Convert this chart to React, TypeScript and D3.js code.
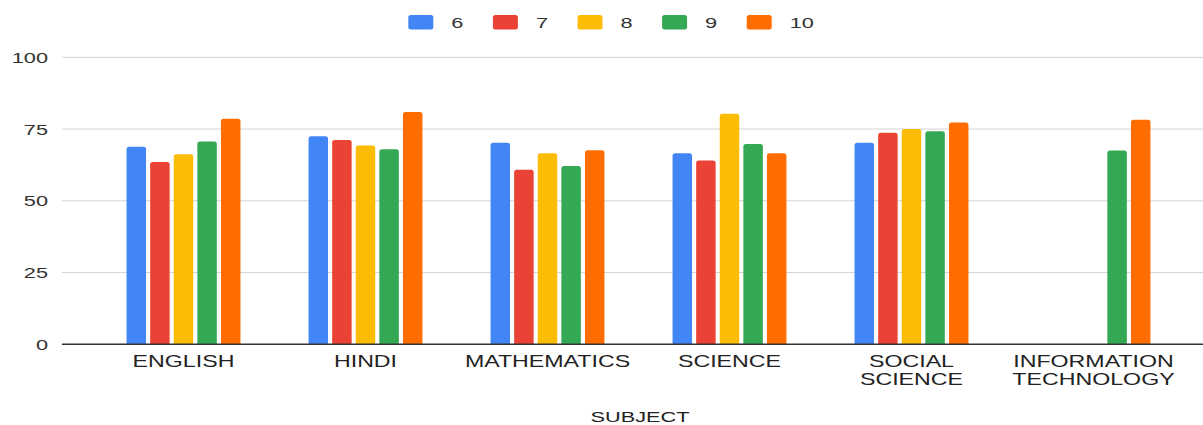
import React from "react";
import * as d3 from "d3";

const categories: string[][] = [
  ["ENGLISH"],
  ["HINDI"],
  ["MATHEMATICS"],
  ["SCIENCE"],
  ["SOCIAL", "SCIENCE"],
  ["INFORMATION", "TECHNOLOGY"],
];
const seriesNames = ["6", "7", "8", "9", "10"];
const colors = ["#4285F4", "#EA4335", "#FBBC04", "#34A853", "#FF6D01"];
const class6 = [68.8, 72.5, 70.2, 66.6, 70.2, null];
const class7 = [63.5, 71.2, 60.8, 64.0, 73.7, null];
const class8 = [66.2, 69.3, 66.6, 80.3, 75.0, null];
const class9 = [70.7, 68.0, 62.1, 69.8, 74.2, 67.5];
const class10 = [78.6, 80.9, 67.6, 66.6, 77.3, 78.2];
const seriesValues: (number | null)[][] = [class6, class7, class8, class9, class10];
const yTicks = [0, 25, 50, 75, 100];
const xTitle = "SUBJECT";

const W = 1203;
const H = 425;
const FONT = "'Liberation Sans', Arial, sans-serif";
const SX = 1.45;

function barPath(x: number, y: number, w: number, h: number, r: number) {
  const rr = Math.min(r, h / 2, w / 2);
  return `M${x},${y + h}V${y + rr}Q${x},${y} ${x + rr},${y}H${x + w - rr}Q${x + w},${y} ${x + w},${y + rr}V${y + h}Z`;
}

export default function App() {
  const y = d3.scaleLinear().domain([0, 100]).range([344.3, 57.3]);
  const x0 = d3
    .scaleBand<number>()
    .domain(categories.map((_, i) => i))
    .range([92.5, 1184.5])
    .padding(0);
  const x1 = d3
    .scaleBand<number>()
    .domain(seriesNames.map((_, i) => i))
    .range([-56.95, 56.95])
    .paddingInner(0.174)
    .paddingOuter(0);
  const gridL = 62;
  const gridR = 1203;

  return (
    <svg
      width={W}
      height={H}
      style={{ position: "absolute", left: 0, top: 0, background: "#fff" }}
      fontFamily={FONT}
    >
      {/* gridlines */}
      {yTicks.map((t) =>
        t === 0 ? null : (
          <line key={t} x1={gridL} x2={gridR} y1={y(t)} y2={y(t)} stroke="#d3d3d3" strokeWidth={1} />
        )
      )}
      {/* y tick labels */}
      {yTicks.map((t) => (
        <text
          key={"yl" + t}
          transform={`translate(48,${y(t) + 5.5}) scale(${SX},1)`}
          textAnchor="end"
          fontSize={15}
          fill="#333"
        >
          {t}
        </text>
      ))}
      {/* bars */}
      {categories.map((_, ci) => {
        const cx = (x0(ci) as number) + x0.bandwidth() / 2;
        return seriesValues.map((vals, si) => {
          const v = vals[ci];
          if (v === null || v === undefined) return null;
          const bx = cx + (x1(si) as number);
          const by = y(v);
          return (
            <path
              key={ci + "-" + si}
              d={barPath(bx, by, x1.bandwidth(), y(0) - by, 2.5)}
              fill={colors[si]}
            />
          );
        });
      })}
      {/* axis line */}
      <line x1={gridL} x2={gridR} y1={y(0)} y2={y(0)} stroke="#333" strokeWidth={1.5} />
      {/* x labels */}
      {categories.map((lines, ci) => {
        const cx = (x0(ci) as number) + x0.bandwidth() / 2;
        return lines.map((ln, li) => (
          <text
            key={ci + "l" + li}
            transform={`translate(${cx},${367.3 + li * 17.5}) scale(${SX},1)`}
            textAnchor="middle"
            fontSize={16}
            fill="#222"
          >
            {ln}
          </text>
        ));
      })}
      {/* x title */}
      <text
        transform={`translate(640,422) scale(${SX},1)`}
        textAnchor="middle"
        fontSize={15}
        fill="#222"
      >
        {xTitle}
      </text>
      {/* legend */}
      {seriesNames.map((s, i) => {
        const lx = 408.3 + i * 84.6;
        return (
          <g key={"lg" + s}>
            <rect x={lx} y={15} width={25} height={14.5} rx={2.5} fill={colors[i]} />
            <text
              transform={`translate(${lx + 43},${27.5}) scale(${SX},1)`}
              fontSize={15}
              fill="#333"
            >
              {s}
            </text>
          </g>
        );
      })}
    </svg>
  );
}
